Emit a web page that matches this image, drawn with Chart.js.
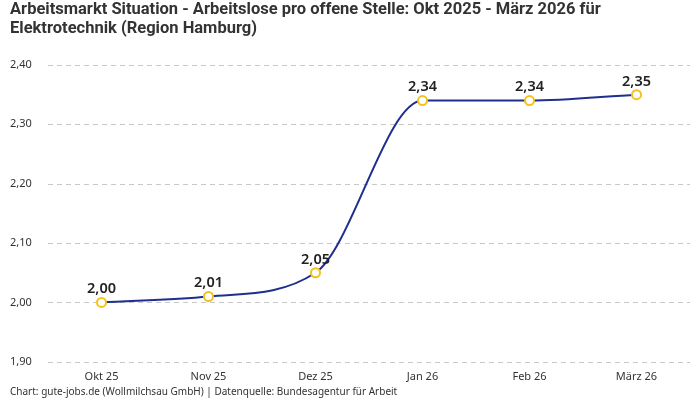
<!DOCTYPE html>
<html>
<head>
<meta charset="utf-8">
<script src="https://cdn.jsdelivr.net/npm/chart.js@4"></script>
<style>
  html, body { margin: 0; padding: 0; background: #fff; }
  #wrap { width: 700px; height: 400px; }
</style>
</head>
<body>
<div id="wrap"><canvas id="chart" width="700" height="400"></canvas></div>
<script>
// chart data
const months = ['Okt 25', 'Nov 25', 'Dez 25', 'Jan 26', 'Feb 26', 'März 26'];
const ratio = [2.00, 2.01, 2.05, 2.34, 2.34, 2.35];
const yTicks = [1.9, 2.0, 2.1, 2.2, 2.3, 2.4];

const fmt = v => v.toFixed(2).replace('.', ',');

// dashed horizontal grid lines, drawn under the line
const dashedGrid = {
  id: 'dashedGrid',
  beforeDatasetsDraw(chart) {
    const ctx = chart.ctx;
    const y = chart.scales.y;
    const area = chart.chartArea;
    ctx.save();
    ctx.strokeStyle = '#c8c8c8';
    ctx.lineWidth = 1;
    ctx.setLineDash([5, 4]);
    yTicks.forEach(v => {
      const py = Math.round(y.getPixelForValue(v)) + 0.5;
      ctx.beginPath();
      ctx.moveTo(area.left, py);
      ctx.lineTo(area.right, py);
      ctx.stroke();
    });
    ctx.restore();
  }
};

// value labels above each point
const valueLabels = {
  id: 'valueLabels',
  afterDatasetsDraw(chart) {
    const ctx = chart.ctx;
    const meta = chart.getDatasetMeta(0);
    ctx.save();
    ctx.font = '600 14.5px "Noto Sans", sans-serif';
    ctx.fillStyle = '#222';
    ctx.textAlign = 'center';
    ctx.textBaseline = 'bottom';
    meta.data.forEach((pt, i) => {
      ctx.fillText(fmt(ratio[i]), pt.x, pt.y - 6);
    });
    ctx.restore();
  }
};

const ctx = document.getElementById('chart').getContext('2d');
new Chart(ctx, {
  type: 'line',
  data: {
    labels: months,
    datasets: [{
      data: ratio,
      borderColor: '#1f2f8f',
      borderWidth: 2,
      cubicInterpolationMode: 'monotone',
      pointRadius: 4.5,
      pointBorderWidth: 2,
      pointBackgroundColor: '#fff',
      pointBorderColor: '#f5c21b',
      fill: false
    }]
  },
  options: {
    responsive: false,
    animation: false,
    layout: { padding: { left: 10, right: 10, top: 0, bottom: 0 } },
    plugins: {
      legend: { display: false },
      tooltip: { enabled: false },
      title: {
        display: true,
        text: ['Arbeitsmarkt Situation - Arbeitslose pro offene Stelle: Okt 2025 - März 2026 für',
               'Elektrotechnik (Region Hamburg)'],
        align: 'start',
        color: '#333',
        font: { family: 'Roboto', size: 16.5, weight: 'bold', lineHeight: 1.12 },
        padding: { top: 1, bottom: 27 }
      },
      subtitle: {
        display: true,
        position: 'bottom',
        align: 'start',
        text: 'Chart: gute-jobs.de (Wollmilchsau GmbH) | Datenquelle: Bundesagentur für Arbeit',
        color: '#333',
        font: { family: '"Noto Sans"', size: 10 },
        padding: { top: 3, bottom: 2 }
      }
    },
    scales: {
      x: {
        offset: true,
        grid: { display: false },
        border: { display: false },
        ticks: { color: '#333', font: { family: '"Noto Sans"', size: 11 }, padding: 0 }
      },
      y: {
        min: 1.9,
        max: 2.4,
        afterBuildTicks: axis => { axis.ticks = yTicks.map(v => ({ value: v })); },
        afterFit: axis => { axis.width = 38; },
        grid: { display: false },
        border: { display: false },
        ticks: {
          color: '#333',
          font: { family: '"Noto Sans"', size: 11 },
          crossAlign: 'far',
          callback: v => fmt(v)
        }
      }
    }
  },
  plugins: [dashedGrid, valueLabels]
});
</script>
</body>
</html>
